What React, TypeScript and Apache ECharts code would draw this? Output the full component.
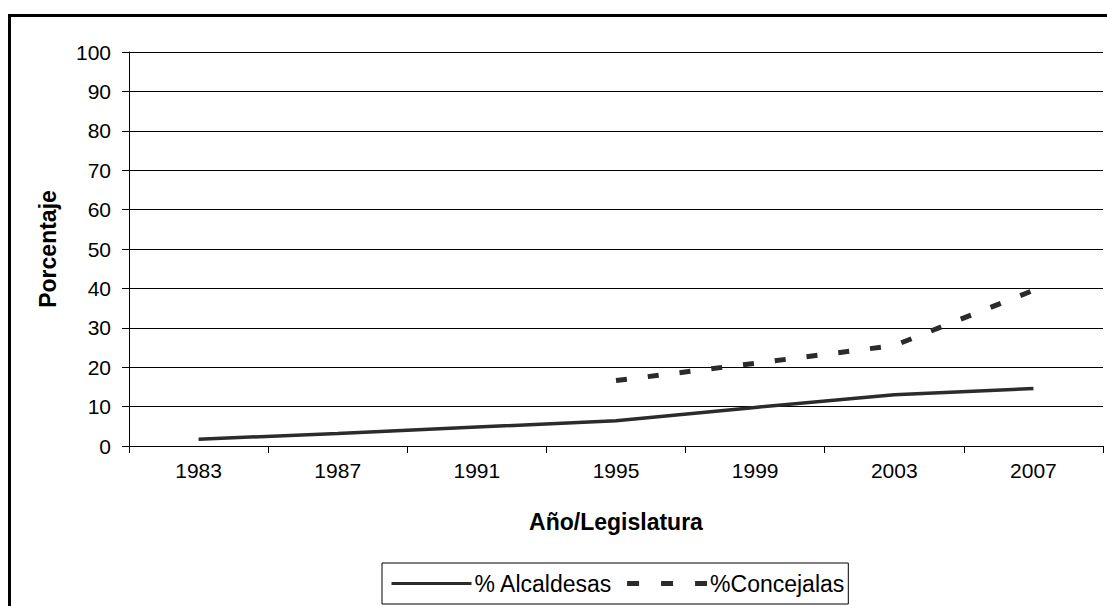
import React, { useEffect, useRef } from "react";
import * as echarts from "echarts";

const years = ["1983", "1987", "1991", "1995", "1999", "2003", "2007"];
const alcaldesas = [1.7, 3.2, 4.8, 6.4, 9.8, 13.0, 14.6];
const concejalas = [null, null, null, 16.6, 21.0, 25.5, 39.5];
const seriesNames = ["% Alcaldesas", "%Concejalas"];
const yMin = 0;
const yMax = 100;
const yInterval = 10;

const FONT = "'Liberation Sans', Arial, Helvetica, sans-serif";
const LINE_COLOR = "#2b2b2b";

export default function App() {
  const ref = useRef<HTMLDivElement>(null);
  useEffect(() => {
    if (!ref.current) return;
    const chart = echarts.init(ref.current, undefined, { renderer: "svg" });
    chart.setOption({
      animation: false,
      backgroundColor: "#ffffff",
      grid: { left: 129, top: 52, right: 4, bottom: 160, containLabel: false },
      graphic: [
        {
          type: "rect",
          silent: true,
          shape: { x: 9.5, y: 15.5, width: 1200, height: 700 },
          style: { fill: "none", stroke: "#000", lineWidth: 3 },
          z: 100,
        },
      ],
      legend: {
        data: [
          {
            name: seriesNames[0],
            itemStyle: { opacity: 0 },
            lineStyle: { width: 3, color: LINE_COLOR, type: "solid" },
          },
          {
            name: seriesNames[1],
            itemStyle: { opacity: 0 },
            lineStyle: { width: 5, color: LINE_COLOR, type: [12, 22], cap: "butt" },
          },
        ],
        itemStyle: { opacity: 0 },
        left: 382,
        top: 563,
        orient: "horizontal",
        padding: [9, 4, 9, 8],
        itemGap: 12,
        itemWidth: 80,
        itemHeight: 22,
        borderColor: "#000",
        borderWidth: 1,
        textStyle: { fontFamily: FONT, fontSize: 23, color: "#000", padding: [0, 0, 0, -2] },
      },
      xAxis: {
        type: "category",
        data: years,
        boundaryGap: true,
        name: "Año/Legislatura",
        nameLocation: "middle",
        nameGap: 64,
        nameTextStyle: { fontFamily: FONT, fontSize: 23, fontWeight: "bold", color: "#000" },
        axisLine: { lineStyle: { color: "#000", width: 1 } },
        axisTick: { show: true, length: 7, lineStyle: { color: "#000" }, alignWithLabel: false },
        axisLabel: { fontFamily: FONT, fontSize: 21, color: "#000", margin: 14 },
        splitLine: { show: false },
      },
      yAxis: {
        type: "value",
        min: yMin,
        max: yMax,
        interval: yInterval,
        name: "Porcentaje",
        nameLocation: "middle",
        nameGap: 70,
        nameTextStyle: { fontFamily: FONT, fontSize: 23, fontWeight: "bold", color: "#000" },
        axisLine: { show: true, lineStyle: { color: "#000", width: 1 } },
        axisTick: { show: true, length: 7, lineStyle: { color: "#000" } },
        axisLabel: { fontFamily: FONT, fontSize: 21, color: "#000", margin: 18 },
        splitLine: { show: true, lineStyle: { color: "#000", width: 1 } },
      },
      series: [
        {
          name: seriesNames[0],
          type: "line",
          data: alcaldesas,
          symbol: "none",
          lineStyle: { color: LINE_COLOR, width: 3.5 },
          itemStyle: { color: LINE_COLOR },
        },
        {
          name: seriesNames[1],
          type: "line",
          data: concejalas,
          symbol: "none",
          connectNulls: false,
          lineStyle: { color: LINE_COLOR, width: 5, type: [11, 21], cap: "butt" },
          itemStyle: { color: LINE_COLOR },
        },
      ],
    });
    return () => chart.dispose();
  }, []);
  return (
    <div
      ref={ref}
      style={{ position: "absolute", left: 0, top: 0, width: 1107, height: 606, background: "#fff" }}
    />
  );
}
